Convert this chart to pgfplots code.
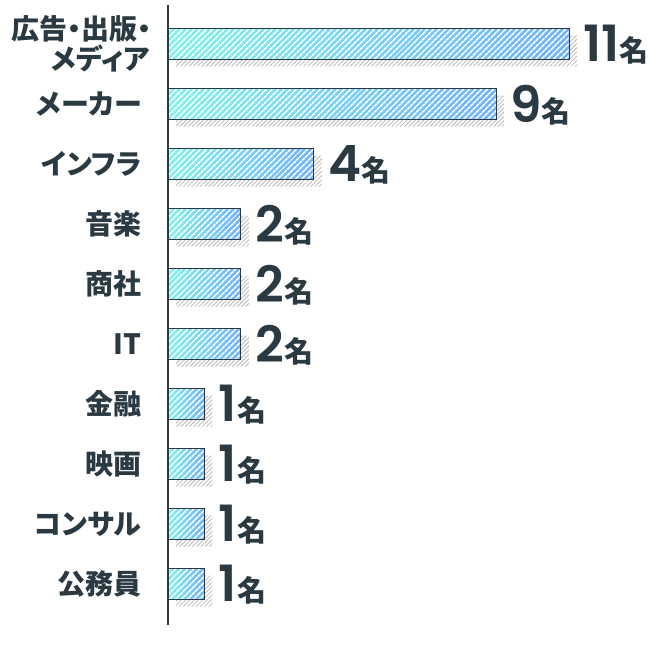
\documentclass[border=0pt]{standalone}
\usepackage{pgfplots}
\pgfplotsset{compat=1.18}
\usepackage{fontspec}
\usetikzlibrary{patterns.meta}
\newfontfamily\jp{Noto Sans CJK JP}[RawFeature={+palt}]
\newfontfamily\numfont{Poppins}[Numbers=Proportional, BoldFont={Poppins SemiBold}]
\definecolor{ink}{HTML}{2B3A42}
\definecolor{barL}{HTML}{84F3EA}
\definecolor{barR}{HTML}{72B2FF}
\definecolor{shadowc}{HTML}{C2C2C2}
\pgfplotsset{
  body/.style={xbar, bar shift=0pt, draw=none, left color=barL, right color=barR},
}
\begin{document}
\begin{tikzpicture}[x=1pt,y=1pt]
\path[use as bounding box] (0,0) rectangle (650,650);
\begin{axis}[
  at={(168pt,25pt)}, anchor=south west,
  scale only axis, width=474pt, height=620pt,
  xmin=0, xmax=13,
  ymin=-0.65, ymax=9.683, y dir=reverse,
  axis x line=none, axis y line=left,
  y axis line style={-, draw=ink, line width=1.3pt},
  ytick={0,...,9},
  yticklabels={{広告・出版・\hspace*{-10pt}\\メディア\hspace*{-8pt}},メーカー,インフラ,音楽,商社,IT,金融,映画,コンサル,公務員},
  ytick style={draw=none},
  yticklabel style={anchor=east, inner sep=0pt, xshift=-22pt, align=right,
    font=\jp\bfseries\fontsize{28}{30}\selectfont, text=ink},
  /pgf/number format/assume math mode=true,
  xbar, bar width=31pt,
  clip=false,
]
% shadow
\addplot[xbar, bar shift=0pt, draw=none, xshift=8pt, yshift=-7pt,
  pattern={Lines[angle=45,distance=3pt,line width=1pt]}, pattern color=shadowc]
  coordinates {(11,0) (9,1) (4,2) (2,3) (2,4) (2,5) (1,6) (1,7) (1,8) (1,9)};
% bars, one path each so that each has its own gradient
\addplot[body] coordinates {(11,0)};
\addplot[body] coordinates {(9,1)};
\addplot[body] coordinates {(4,2)};
\addplot[body] coordinates {(2,3)};
\addplot[body] coordinates {(2,4)};
\addplot[body] coordinates {(2,5)};
\addplot[body] coordinates {(1,6)};
\addplot[body] coordinates {(1,7)};
\addplot[body] coordinates {(1,8)};
\addplot[body] coordinates {(1,9)};
% white hatching, outline and value labels
\addplot[xbar, bar shift=0pt, draw=ink, line width=1pt,
  pattern={Lines[angle=45,distance=4pt,line width=1.7pt]}, pattern color=white,
  nodes near coords={{\numfont\bfseries\fontsize{50}{50}\selectfont\pgfmathprintnumber{\pgfplotspointmeta}}{\jp\bfseries\fontsize{29}{29}\selectfont 名}},
  every node near coord/.append style={anchor=west, inner sep=0pt, xshift=14pt, yshift=-1pt, text=ink}]
  coordinates {(11,0) (9,1) (4,2) (2,3) (2,4) (2,5) (1,6) (1,7) (1,8) (1,9)};
\end{axis}
\end{tikzpicture}
\end{document}
